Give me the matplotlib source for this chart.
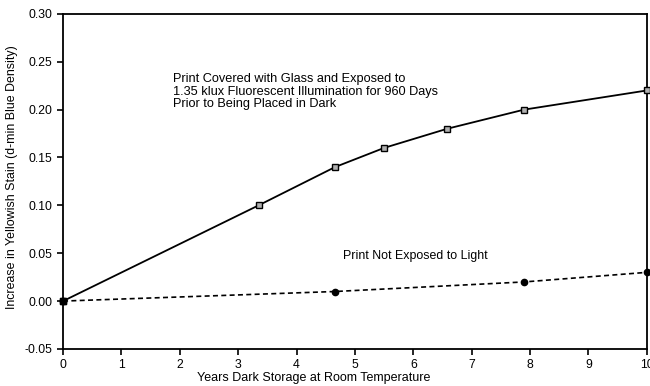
import matplotlib
matplotlib.use("Agg")
import matplotlib.pyplot as plt

plt.rcParams['font.family'] = ['Liberation Sans', 'DejaVu Sans']

# Stain increase for the print pre-exposed to light before dark storage
exposed_years = [0, 3.35, 4.66, 5.5, 6.58, 7.9, 10]
exposed_stain = [0.0, 0.10, 0.14, 0.16, 0.18, 0.20, 0.22]

# Stain increase for the print kept in the dark throughout
dark_years = [0, 4.66, 7.9, 10]
dark_stain = [0.0, 0.01, 0.02, 0.03]

x_ticks = list(range(0, 11))
y_ticks = [-0.05, 0.00, 0.05, 0.10, 0.15, 0.20, 0.25, 0.30]

fig = plt.figure(figsize=(6.5, 3.86), dpi=100)
ax = fig.add_axes([0.097, 0.096, 0.898, 0.868])

ax.plot(exposed_years, exposed_stain, color='black', lw=1.3,
        marker='s', ms=4.5, mfc='#b0b0b0', mec='black', mew=1.0, clip_on=False, zorder=3)
ax.plot(dark_years, dark_stain, color='black', lw=1.2, ls=(0, (3, 2)),
        marker='o', ms=4.5, mfc='black', mec='black', clip_on=False, zorder=3)
ax.plot([0], [0], marker='s', ms=5, color='black', clip_on=False, zorder=4)

ax.set_xlim(0, 10)
ax.set_ylim(-0.05, 0.30)
ax.set_xticks(x_ticks)
ax.set_yticks(y_ticks)
ax.set_xticklabels([str(v) for v in x_ticks])
ax.set_yticklabels([f"{v:.2f}" for v in y_ticks])
ax.tick_params(axis='both', labelsize=8.8, direction='out', length=4, width=1.2, colors='black')
ax.tick_params(axis='x', pad=3)
for s in ax.spines.values():
    s.set_linewidth(1.3)

ax.set_xlabel("Years Dark Storage at Room Temperature", fontsize=9)
ax.xaxis.set_label_coords(0.43, -0.068)
ax.set_ylabel("Increase in Yellowish Stain (d-min Blue Density)", fontsize=8.9)
ax.yaxis.set_label_coords(-0.078, 0.513)

ax.text(1.88, 0.238, "Print Covered with Glass and Exposed to\n1.35 klux Fluorescent Illumination for 960 Days\nPrior to Being Placed in Dark",
        fontsize=9.2, va='top', ha='left', linespacing=1.05)
ax.text(4.8, 0.047, "Print Not Exposed to Light", fontsize=8.9, va='center', ha='left')

fig.savefig("out.png", dpi=100)
